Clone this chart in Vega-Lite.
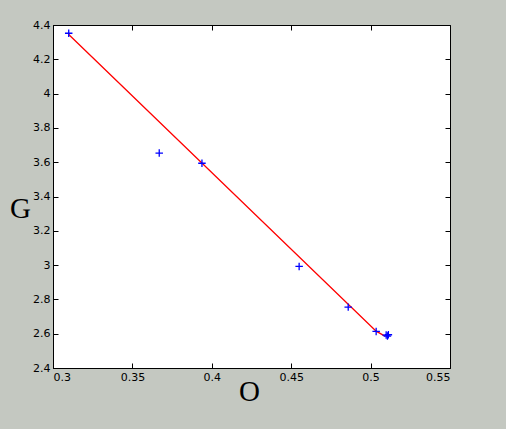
{
  "$schema": "https://vega.github.io/schema/vega-lite/v6.json",
  "autosize": "none",
  "width": 397,
  "height": 343,
  "padding": {"left": 53, "top": 25, "right": 56, "bottom": 61},
  "background": "#c4c8c1",
  "config": {
    "view": {"fill": "white", "stroke": "black", "strokeWidth": 1},
    "axis": {
      "domainColor": "black",
      "tickColor": "black",
      "labelColor": "black",
      "labelFont": "DejaVu Sans",
      "labelFontSize": 11,
      "format": "~g",
      "grid": false,
      "tickSize": -5
    }
  },
  "datasets": {
    "pts": [
      {"O": 0.3099, "G": 4.352},
      {"O": 0.3669, "G": 3.653},
      {"O": 0.3938, "G": 3.594},
      {"O": 0.455, "G": 2.992},
      {"O": 0.4859, "G": 2.755},
      {"O": 0.5035, "G": 2.613},
      {"O": 0.5098, "G": 2.592},
      {"O": 0.5106, "G": 2.586},
      {"O": 0.5112, "G": 2.594}
    ],
    "fit": [
      {"O": 0.3099, "G": 4.345},
      {"O": 0.5035, "G": 2.615},
      {"O": 0.509, "G": 2.586}
    ]
  },
  "layer": [
    {
      "data": {"name": "fit"},
      "mark": {"type": "line", "color": "#ff0000", "strokeWidth": 1.3},
      "encoding": {
        "x": {
          "field": "O", "type": "quantitative",
          "scale": {"domain": [0.3, 0.55], "zero": false, "nice": false},
          "axis": {
            "orient": "bottom",
            "values": [0.3, 0.35, 0.4, 0.45, 0.5, 0.55],
            "labelPadding": 8,
            "title": "O",
            "titleFont": "Liberation Serif",
            "titleFontSize": 29,
            "titleFontWeight": "normal",
            "titleColor": "black",
            "titleBaseline": "alphabetic",
            "titleX": 196,
            "titleY": 32.5
          }
        },
        "y": {
          "field": "G", "type": "quantitative",
          "scale": {"domain": [2.4, 4.4], "zero": false, "nice": false},
          "axis": {
            "orient": "left",
            "values": [2.4, 2.6, 2.8, 3, 3.2, 3.4, 3.6, 3.8, 4, 4.2, 4.4],
            "labelPadding": 8,
            "title": "G",
            "titleFont": "Liberation Serif",
            "titleFontSize": 29,
            "titleFontWeight": "normal",
            "titleColor": "black",
            "titleAngle": 0,
            "titleAlign": "center",
            "titleBaseline": "alphabetic",
            "titleX": -33,
            "titleY": 192
          }
        }
      }
    },
    {
      "data": {"name": "pts"},
      "mark": {
        "type": "point",
        "shape": "M-1,0H1M0,-1V1",
        "filled": false,
        "color": "#0000ff",
        "strokeWidth": 1.3,
        "size": 56,
        "opacity": 1
      },
      "encoding": {
        "x": {
          "field": "O", "type": "quantitative",
          "axis": {
            "orient": "top",
            "values": [0.3, 0.35, 0.4, 0.45, 0.5, 0.55],
            "labels": false,
            "domain": false,
            "title": null
          }
        },
        "y": {
          "field": "G", "type": "quantitative",
          "axis": {
            "orient": "right",
            "values": [2.4, 2.6, 2.8, 3, 3.2, 3.4, 3.6, 3.8, 4, 4.2, 4.4],
            "labels": false,
            "domain": false,
            "title": null
          }
        }
      }
    }
  ],
  "resolve": {"axis": {"x": "independent", "y": "independent"}}
}
